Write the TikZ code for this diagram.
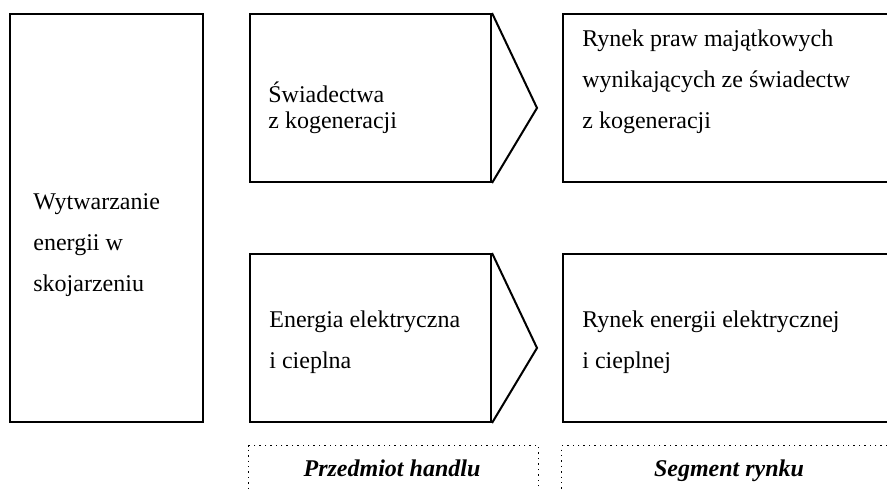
\documentclass[tikz,border=0pt]{standalone}
\usepackage{fontspec}
\setmainfont{Liberation Serif}
\usetikzlibrary{positioning}

\begin{document}
\begin{tikzpicture}[
        x=0.5pt, y=-0.5pt,
        font=\fontsize{12}{20.5}\selectfont,
        box/.style={
            draw,
            line width=1pt,
            inner sep=0pt,
            anchor=north west
        },
        txt/.style={align=left, inner sep=0pt, anchor=base west},
        frame/.style={draw, dotted, line width=0.7pt, inner sep=0pt, anchor=north west, minimum height=40pt},
        caption/.style={inner sep=0pt, anchor=base, font=\fontsize{12}{14}\selectfont\bfseries\itshape}
    ]

    \clip (0,0) rectangle (887,490);

    \node[box, minimum width=96.5pt, minimum height=204pt] (production) at (9,13) {};
    \node[box, minimum width=120.5pt, minimum height=84pt] (certificates) at (249,13) {};
    \node[box, minimum width=120.5pt, minimum height=84pt] (energy) at (249,253) {};
    \node[box, minimum width=167.5pt, minimum height=84pt] (rightsmarket) at (562,13) {};
    \node[box, minimum width=167.5pt, minimum height=84pt] (energymarket) at (562,253) {};

    % base = baseline of the last line
    \node[txt] (productiontext) at (33,292) {Wytwarzanie\\energii w\\skojarzeniu};
    \node[txt, font=\fontsize{12}{13}\selectfont] (certificatestext) at (268,129) {Świadectwa\\z kogeneracji};
    \node[txt] (energytext) at (269,369) {Energia elektryczna\\i cieplna};
    \node[txt] (rightsmarkettext) at (582,129) {Rynek praw majątkowych\\wynikających ze świadectw\\z kogeneracji};
    \node[txt] (energymarkettext) at (582,369) {Rynek energii elektrycznej\\i cieplnej};

    \coordinate (certificatestip) at (537,108);
    \coordinate (energytip) at (537,348);
    \draw[line width=1pt] (certificates.north east) -- (certificatestip) -- (certificates.south east);
    \draw[line width=1pt] (energy.north east) -- (energytip) -- (energy.south east);

    \node[frame, minimum width=145pt] (subjectframe) at (248,445) {};
    \node[frame, minimum width=168pt] (segmentframe) at (561,445) {};
    \node[caption] (subject) at (392,477) {Przedmiot handlu};
    \node[caption] (segment) at (729,477) {Segment rynku};

\end{tikzpicture}
\end{document}
